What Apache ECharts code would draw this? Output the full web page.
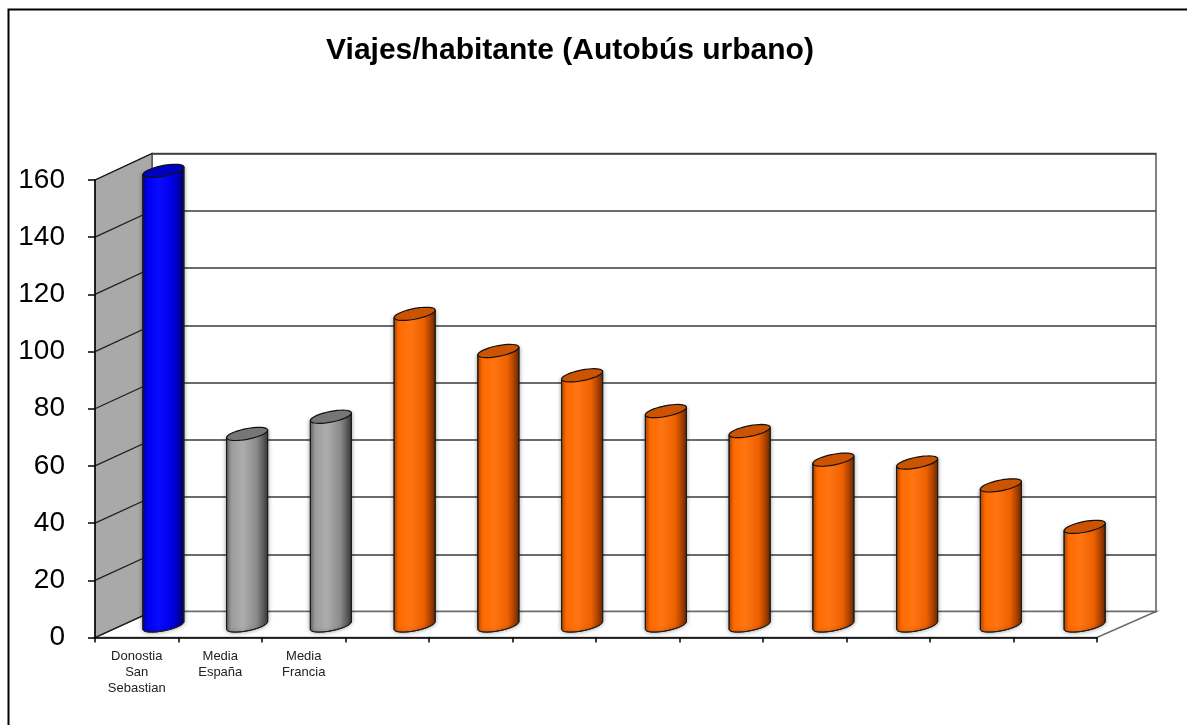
<!DOCTYPE html>
<html>
<head>
<meta charset="utf-8">
<script src="https://cdn.jsdelivr.net/npm/echarts@6/dist/echarts.min.js"></script>
<style>
  html, body { margin: 0; padding: 0; background: #fff; }
  #chart { width: 1187px; height: 725px; }
</style>
</head>
<body>
<div id="chart"></div>
<script>
// datos
const titulo = 'Viajes/habitante (Autobús urbano)';
const etiquetas = ['Donostia\nSan\nSebastian', 'Media\nEspaña', 'Media\nFrancia', '', '', '', '', '', '', '', '', ''];
const viajes = [159, 67, 73, 109, 96, 87.5, 75, 68, 58, 57, 49, 34.5];
const ejeMin = 0;
const ejeMax = 160;
const ejePaso = 20;

// disposicion 3D (pared del fondo, plano medio de las barras, plano frontal)
const FONDO = { left: 152, top: 153.5, width: 1004, height: 458 };
const MEDIO = { left: 121.5, top: 168, width: 1005, height: 457.5 };
const FRENTE = { left: 95, top: 180, width: 1002, height: 457.5 };

const fuente = '"Liberation Sans", Arial, sans-serif';

const colores = {
  azul: {
    cuerpo: ['#00009a', '#0000ee', '#0a0aff', '#0000e6', '#000070'],
    tapa: '#0000c0'
  },
  gris: {
    cuerpo: ['#666666', '#9c9c9c', '#adadad', '#8c8c8c', '#3a3a3a'],
    tapa: '#767676'
  },
  naranja: {
    cuerpo: ['#b84a00', '#ff6a00', '#ff7512', '#ee6000', '#742a00'],
    tapa: '#cc5400'
  }
};

function paleta(idx) {
  if (idx === 0) return colores.azul;
  if (etiquetas[idx].indexOf('Media') === 0) return colores.gris;
  return colores.naranja;
}

function degradado(c) {
  const pos = [0, 0.12, 0.4, 0.72, 1];
  return {
    type: 'linear', x: 0, y: 0, x2: 1, y2: 0,
    colorStops: c.map((col, k) => ({ offset: pos[k], color: col }))
  };
}

// cilindro inclinado
function renderCilindro(params, api) {
  const i = api.value(0);
  const v = api.value(1);
  const base = api.coord([i, 0]);
  const cima = api.coord([i, v]);
  const a = api.size([1, 0])[0] * 0.245;
  const inc = 3.8;
  const b = 5.4;
  const cx = base[0];
  const by = base[1];
  const ty = cima[1];
  const c = paleta(params.dataIndex);

  const elipse = (cy, t0, t1, n) => {
    const pts = [];
    for (let k = 0; k <= n; k++) {
      const t = t0 + (t1 - t0) * k / n;
      pts.push([cx + a * Math.cos(t), cy + b * Math.sin(t) - inc * Math.cos(t)]);
    }
    return pts;
  };

  const cuerpo = [[cx - a, ty + inc]]
    .concat(elipse(by, Math.PI, 0, 30))
    .concat([[cx + a, ty - inc]]);

  return {
    type: 'group',
    children: [
      {
        type: 'polygon',
        shape: { points: cuerpo },
        style: {
          fill: degradado(c.cuerpo), stroke: '#1a1a1a', lineWidth: 1,
          shadowBlur: 4, shadowColor: 'rgba(0,0,0,0.35)'
        }
      },
      {
        type: 'polygon',
        shape: { points: elipse(ty, 0, Math.PI * 2, 40) },
        style: { fill: c.tapa, stroke: '#111', lineWidth: 1.2 }
      }
    ]
  };
}

const chart = echarts.init(document.getElementById('chart'));

const ejeOculto = { show: false };

const option = {
  animation: false,
  backgroundColor: '#fff',
  title: {
    text: titulo,
    left: 565,
    top: 31,
    textAlign: 'center',
    textStyle: { fontFamily: fuente, fontSize: 30, fontWeight: 'bold', color: '#000' }
  },
  grid: [
    Object.assign({ show: true, backgroundColor: '#fff', borderColor: '#5a5a5a', borderWidth: 1.5 }, FONDO),
    Object.assign({}, MEDIO),
    Object.assign({}, FRENTE)
  ],
  xAxis: [
    { type: 'category', gridIndex: 0, data: etiquetas, show: false },
    { type: 'category', gridIndex: 1, data: etiquetas, show: false },
    {
      type: 'category', gridIndex: 2, data: etiquetas, z: 3,
      axisLine: { lineStyle: { color: '#000', width: 1.5 } },
      axisTick: { show: true, length: 5, lineStyle: { color: '#000', width: 1.5 } },
      axisLabel: {
        interval: 0, margin: 11, fontFamily: fuente, fontSize: 13,
        lineHeight: 16, color: '#222'
      }
    }
  ],
  yAxis: [
    {
      type: 'value', gridIndex: 0, min: ejeMin, max: ejeMax, interval: ejePaso,
      axisLine: ejeOculto, axisTick: ejeOculto, axisLabel: ejeOculto,
      splitLine: { show: true, lineStyle: { color: '#3a3a3a', width: 1.6 } }
    },
    {
      type: 'value', gridIndex: 1, min: ejeMin, max: ejeMax, interval: ejePaso,
      show: false
    },
    {
      type: 'value', gridIndex: 2, min: ejeMin, max: ejeMax, interval: ejePaso, z: 3,
      axisLine: { show: true, lineStyle: { color: '#000', width: 1.5 } },
      axisTick: { show: true, length: 7, lineStyle: { color: '#000', width: 1.5 } },
      axisLabel: { margin: 30, fontFamily: fuente, fontSize: 28, color: '#000' },
      splitLine: { show: false }
    }
  ],
  series: [
    {
      type: 'custom',
      xAxisIndex: 1,
      yAxisIndex: 1,
      z: 2,
      renderItem: renderCilindro,
      data: viajes.map((v, i) => [i, v])
    }
  ]
};

chart.setOption(option);

// paredes: se calculan con las escalas de los ejes ya montados
function paredes() {
  const yF = v => chart.convertToPixel({ yAxisIndex: 2 }, v);
  const yB = v => chart.convertToPixel({ yAxisIndex: 0 }, v);
  const xF0 = FRENTE.left, xF1 = FRENTE.left + FRENTE.width;
  const xB0 = FONDO.left, xB1 = FONDO.left + FONDO.width;
  const g = [];

  g.push({
    type: 'polygon', z: 1,
    shape: { points: [[xF0, yF(ejeMin)], [xB0, yB(ejeMin)], [xB1, yB(ejeMin)], [xF1, yF(ejeMin)]] },
    style: { fill: '#fff', stroke: '#6a6a6a', lineWidth: 1.5 }
  });
  g.push({
    type: 'polygon', z: 1,
    shape: { points: [[xF0, yF(ejeMax)], [xB0, yB(ejeMax)], [xB0, yB(ejeMin)], [xF0, yF(ejeMin)]] },
    style: { fill: '#a9a9a9', stroke: '#444', lineWidth: 1.2 }
  });
  for (let v = ejeMin; v <= ejeMax; v += ejePaso) {
    g.push({
      type: 'line', z: 1,
      shape: { x1: xF0, y1: yF(v), x2: xB0, y2: yB(v) },
      style: { stroke: '#1e1e1e', lineWidth: 1.3 }
    });
  }
  // marco exterior
  g.push({
    type: 'rect', z: 5,
    shape: { x: 8.5, y: 9.5, width: 1250, height: 800 },
    style: { fill: null, stroke: '#000', lineWidth: 2 }
  });
  chart.setOption({ graphic: g });
}

paredes();
</script>
</body>
</html>
